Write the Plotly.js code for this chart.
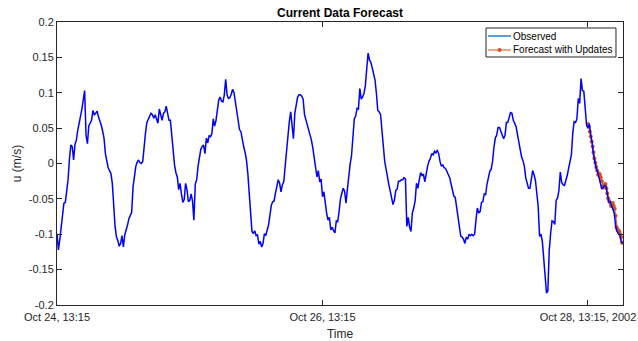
<!DOCTYPE html>
<html>
<head>
<meta charset="utf-8">
<script src="https://cdn.plot.ly/plotly-3.0.1.min.js"></script>
<style>
  html, body { margin: 0; padding: 0; background: #fff; }
  #chart { width: 638px; height: 341px; }
</style>
</head>
<body>
<div id="chart"></div>
<script>
// ---- data (u in m/s) ----
const observedStart = '2002-10-24 13:15';
const observedStepMinutes = 15;
const observedU = [
  // Oct 24 13:15 ->
  -0.099, -0.122, -0.108, -0.089, -0.073, -0.056, -0.055, -0.042, -0.023, 0.006,
  0.026, 0.024, 0.005, 0.027, 0.033, 0.047, 0.056, 0.066, 0.077, 0.090,
  0.103, 0.040, 0.028, 0.053, 0.057, 0.061, 0.075, 0.069, 0.071, 0.074,
  0.066, 0.061, 0.054, 0.046, 0.036, 0.014, 0.001, -0.006, -0.010, -0.014,
  -0.028, -0.061, -0.089, -0.104, -0.109, -0.117, -0.113, -0.102, -0.118, -0.101,
  -0.095, -0.087, -0.078, -0.074, -0.069, -0.033, -0.015, -0.004, 0.002, 0.005,
  0.001,
  0.000, 0.003, 0.028, 0.043, 0.058, 0.062, 0.067, 0.071, 0.069, 0.064,
  0.069, 0.064, 0.057, 0.077, 0.066, 0.061, 0.071, 0.073, 0.081, 0.070,
  0.061, 0.061, 0.038, 0.019, -0.002, -0.013, -0.019, -0.037, -0.028, -0.043,
  -0.055, -0.051, -0.028, -0.037, -0.054, -0.052, -0.043, -0.053, -0.080, -0.029,
  -0.023, -0.004, 0.010, 0.020, 0.024, 0.026, 0.014, 0.036, 0.029, 0.039,
  0.038, 0.042, 0.063, 0.053, 0.061, 0.075, 0.090, 0.094,
  0.088, 0.087, 0.097, 0.119, 0.097, 0.092, 0.093, 0.098, 0.105, 0.100,
  0.087, 0.075, 0.057, 0.048, 0.045, 0.031, 0.024, 0.016, 0.005, -0.014,
  -0.045, -0.064, -0.096, -0.099, -0.095, -0.102, -0.101, -0.114, -0.110, -0.118,
  -0.113, -0.099, -0.102, -0.094, -0.087, -0.073, -0.059, -0.054, -0.053, -0.042,
  -0.031, -0.023, -0.028, -0.040, -0.030, -0.026, -0.004, 0.021, 0.045, 0.059,
  0.073, 0.047, 0.035, 0.071, 0.084, 0.094, 0.097, 0.097, 0.095,
  0.091, 0.069, 0.062, 0.057, 0.047, 0.043, 0.033, 0.022, 0.009, 0.000,
  -0.019, -0.010, -0.026, -0.022, -0.047, -0.040, -0.060, -0.070, -0.080, -0.076,
  -0.094, -0.090, -0.095, -0.098, -0.081, -0.082, -0.068, -0.050, -0.042, -0.035,
  -0.039, -0.056, -0.037, -0.014, -0.001, 0.011, 0.034, 0.063, 0.067, 0.078,
  0.077, 0.106, 0.091, 0.094, 0.099, 0.110, 0.134, 0.156, 0.146, 0.143,
  0.135, 0.128, 0.118, 0.099, 0.075, 0.073, 0.069, 0.047,
  0.021, 0.003, -0.008, -0.022, -0.030, -0.039, -0.052, -0.058, -0.052, -0.038,
  -0.036, -0.025, -0.025, -0.023, -0.023, -0.020, -0.022, -0.089, -0.076, -0.090,
  -0.096, -0.070, -0.063, -0.053, -0.028, -0.035, -0.023, -0.013, -0.017, -0.015,
  -0.026, -0.011, -0.004, 0.003, 0.007, 0.014, 0.012, 0.017, 0.015, 0.019,
  0.014, 0.003, -0.004, -0.002, -0.006, -0.007, -0.012, -0.015, -0.020, -0.029,
  -0.038, -0.046, -0.048, -0.061, -0.073, -0.089, -0.103, -0.104, -0.107,
  -0.113, -0.104, -0.107, -0.100, -0.102, -0.100, -0.102, -0.100, -0.080, -0.063,
  -0.070, -0.068, -0.055, -0.054, -0.043, -0.044, -0.029, -0.017, -0.011, -0.008,
  0.003, 0.023, 0.036, 0.040, 0.051, 0.051, 0.046, 0.042, 0.035, 0.040,
  0.058, 0.058, 0.067, 0.072, 0.071, 0.061, 0.057, 0.052, 0.041, 0.028,
  0.018, 0.009, 0.004, -0.004, -0.020, -0.027, -0.035, -0.035, -0.019, -0.010,
  -0.016, -0.024, -0.042, -0.061, -0.103, -0.100, -0.110, -0.136,
  -0.166, -0.183, -0.180, -0.122, -0.099, -0.081, -0.082, -0.086, -0.052, -0.049,
  -0.038, -0.012, -0.027, -0.030, -0.031, -0.025, -0.017, -0.007, 0.003, 0.012,
  0.043, 0.059, 0.058, 0.063, 0.092, 0.085, 0.120, 0.103, 0.102, 0.082,
  0.054, 0.050, 0.056, 0.040, 0.030, 0.012, -0.001, -0.007, -0.012, -0.019,
  -0.028, -0.036, -0.034, -0.031, -0.032, -0.043, -0.054, -0.054, -0.060, -0.065,
  -0.070, -0.088, -0.096, -0.099, -0.101, -0.110, -0.113
];

const forecastStart = '2002-10-28 13:15';
const forecastStepMinutes = 10;
const forecastU = [
  0.056, 0.052, 0.045, 0.038, 0.031, 0.024, 0.016, 0.007, 0.001, -0.005,
  -0.010, -0.016, -0.014, -0.016, -0.020, -0.025, -0.032, -0.034, -0.030, -0.029,
  -0.035, -0.042, -0.049, -0.053, -0.055, -0.060, -0.058, -0.056, -0.060, -0.064,
  -0.074, -0.090, -0.093, -0.095, -0.096, -0.100, -0.104, -0.112
];

const seriesNames = ['Observed', 'Forecast with Updates'];
const xRange = ['2002-10-24 13:15', '2002-10-28 19:35'];
const xTickTimes = ['2002-10-24 13:15', '2002-10-26 13:15', '2002-10-28 13:15'];
const xTickLabels = ['Oct 24, 13:15', 'Oct 26, 13:15', 'Oct 28, 13:15, 2002'];
const yTickVals = [-0.2, -0.15, -0.1, -0.05, 0, 0.05, 0.1, 0.15, 0.2];
const yTickLabels = ['-0.2', '-0.15', '-0.1', '-0.05', '0', '0.05', '0.1', '0.15', '0.2'];

// ---- helpers ----
function toMs(s) {
  const [d, t] = s.split(' ');
  const [Y, M, D] = d.split('-').map(Number);
  const [h, m] = t.split(':').map(Number);
  return Date.UTC(Y, M - 1, D, h, m);
}
function fmt(ms) {
  return new Date(ms).toISOString().replace('T', ' ').slice(0, 19);
}
function times(start, stepMin, n) {
  const s = toMs(start);
  return Array.from({length: n}, (_, i) => fmt(s + i * stepMin * 60000));
}

const axisColor = '#262626';
const font = 'Liberation Sans, Arial, Helvetica, sans-serif';
const obsColor = '#0000ff';
const obsLegendColor = '#1f7fd6';
const fcColor = '#D95319';

const observedTrace = {
  type: 'scatter', mode: 'lines', name: seriesNames[0],
  x: times(observedStart, observedStepMinutes, observedU.length),
  y: observedU,
  line: {color: obsColor, width: 1.5}
};
const forecastTrace = {
  type: 'scatter', mode: 'lines+markers', name: seriesNames[1],
  x: times(forecastStart, forecastStepMinutes, forecastU.length),
  y: forecastU,
  line: {color: fcColor, width: 1},
  marker: {color: fcColor, size: 4}
};

// compact MATLAB-style legend box (paper coordinates)
const lg = {x0: 0.758, x1: 0.9876, y0: 0.8763, y1: 0.9788,
            rows: [0.9505, 0.9011], lineX0: 0.7615, lineX1: 0.8021, textX: 0.8039};
const shapes = [
  {type: 'rect', xref: 'paper', yref: 'paper', x0: lg.x0, x1: lg.x1, y0: lg.y0, y1: lg.y1,
   fillcolor: '#fff', line: {color: axisColor, width: 1}},
  {type: 'line', xref: 'paper', yref: 'paper', x0: lg.lineX0, x1: lg.lineX1,
   y0: lg.rows[0], y1: lg.rows[0], line: {color: obsLegendColor, width: 1.5}},
  {type: 'line', xref: 'paper', yref: 'paper', x0: lg.lineX0, x1: lg.lineX1,
   y0: lg.rows[1], y1: lg.rows[1], line: {color: fcColor, width: 1}},
  {type: 'circle', xref: 'paper', yref: 'paper', xsizemode: 'pixel', ysizemode: 'pixel',
   xanchor: (lg.lineX0 + lg.lineX1) / 2, yanchor: lg.rows[1],
   x0: -2, x1: 2, y0: -2, y1: 2, fillcolor: fcColor, line: {color: fcColor, width: 0}}
];
const annotations = seriesNames.map((name, i) => ({
  text: name, xref: 'paper', yref: 'paper', x: lg.textX, y: lg.rows[i],
  xanchor: 'left', yanchor: 'middle', showarrow: false, borderpad: 0,
  font: {family: font, size: 10, color: '#000'}
}));

const layout = {
  width: 638, height: 341,
  margin: {l: 57, r: 15, t: 22, b: 36},
  paper_bgcolor: '#fff', plot_bgcolor: '#fff',
  font: {family: font, color: axisColor, size: 11},
  title: {
    text: '<b>Current Data Forecast</b>',
    font: {family: font, size: 12, color: '#000'},
    x: 0.5, xref: 'paper', xanchor: 'center',
    y: 0.962, yref: 'container', yanchor: 'middle'
  },
  showlegend: false,
  shapes: shapes,
  annotations: annotations,
  xaxis: {
    type: 'date', range: xRange, automargin: false,
    tickvals: xTickTimes, ticktext: xTickLabels,
    ticklabeloverflow: 'allow', ticklabelstandoff: 2,
    ticks: 'inside', ticklen: 5, tickcolor: axisColor, tickwidth: 1,
    showline: true, linecolor: axisColor, linewidth: 1, mirror: 'ticks',
    showgrid: false, zeroline: false,
    tickfont: {family: font, size: 11, color: axisColor},
    title: {text: 'Time', font: {family: font, size: 12, color: axisColor}, standoff: 7}
  },
  yaxis: {
    range: [-0.2, 0.2], automargin: false,
    tickvals: yTickVals, ticktext: yTickLabels,
    ticks: 'inside', ticklen: 5, tickcolor: axisColor, tickwidth: 1,
    showline: true, linecolor: axisColor, linewidth: 1, mirror: 'ticks',
    showgrid: false, zeroline: false,
    tickfont: {family: font, size: 11, color: axisColor},
    title: {text: 'u (m/s)', font: {family: font, size: 12, color: axisColor}, standoff: 4}
  }
};

Plotly.newPlot('chart', [forecastTrace, observedTrace], layout, {displayModeBar: false, staticPlot: true});
</script>
</body>
</html>
